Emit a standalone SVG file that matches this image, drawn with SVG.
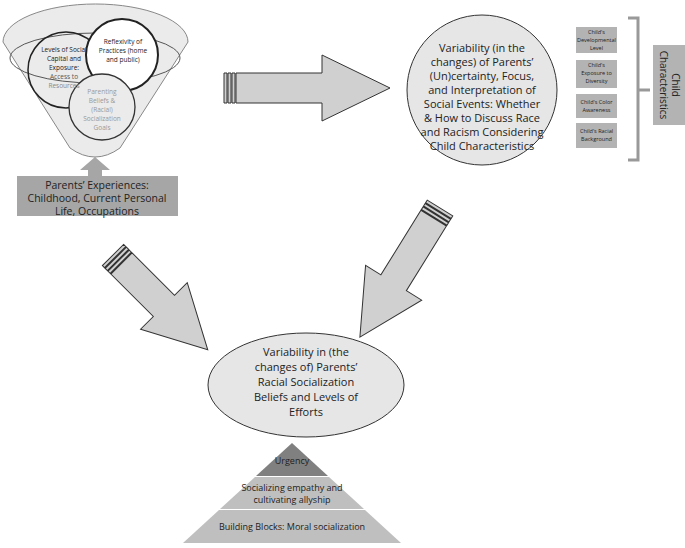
<svg xmlns="http://www.w3.org/2000/svg" width="685" height="548" viewBox="0 0 685 548">
<style>
text{font-family:"Open Sans","Liberation Sans",sans-serif;fill:#222;text-anchor:middle}
.s{font-size:6.5px}.m{font-size:11px}.e{font-size:10.5px}.t{font-size:5.5px}
.arr{fill:#d0d0d0;stroke:#333;stroke-width:1}
</style>
<rect width="685" height="548" fill="#fff"/>
<g id="connectors">
<g transform="translate(224,88)"><path class="arr" d="M0,-15h3v30h-3zM4,-15h3v30h-3zM8,-15h3v30h-3zM12,-15H98V-33L166,0L98,33V15H12z"/></g>
<g transform="translate(113,255) rotate(45)"><path class="arr" d="M0,-15h3v30h-3zM4,-15h3v30h-3zM8,-15h3v30h-3zM12,-15H72V-33L134,0L72,33V15H12z"/></g>
<g transform="translate(440,208) rotate(121.8)"><path class="arr" d="M0,-15h3v30h-3zM4,-15h3v30h-3zM8,-15h3v30h-3zM12,-15H88V-33L152,0L88,33V15H12z"/></g>
<path d="M88,177V170H80L95,157L110,170H102V177z" fill="#a6a6a6"/>
<path d="M628,18h10v142h-10M638,90h12" fill="none" stroke="#999" stroke-width="3"/>
</g>
<g id="funnel">
<path d="M3,42L70,148Q95,166 120,148L188,42A92.5,38 0 0 0 3,42Z" fill="#ebebeb" stroke="#888"/>
<ellipse cx="95" cy="58" rx="85" ry="25" fill="none" stroke="#555"/>
<circle cx="66" cy="70" r="38" fill="none" stroke="#222" stroke-width="1.5"/>
<circle cx="122" cy="55" r="36" fill="#fff" stroke="#222" stroke-width="2"/>
<circle cx="102" cy="107" r="33" fill="#ebebeb" stroke="#333" stroke-width="1.3"/>
<text class="s" x="64" y="52">Levels of Social</text>
<text class="s" x="64" y="61">Capital and</text>
<text class="s" x="64" y="70">Exposure:</text>
<text class="s" x="64" y="79" style="fill:#555">Access to</text>
<text class="s" x="64" y="88" style="fill:#888">Resources</text>
<text class="s" x="123" y="44">Reflexivity of</text>
<text class="s" x="123" y="53">Practices (home</text>
<text class="s" x="123" y="62">and public)</text>
<text class="s" x="102" y="94" style="fill:#999">Parenting</text>
<text class="s" x="102" y="103" style="fill:#999">Beliefs &amp;</text>
<text class="s" x="102" y="112" style="fill:#999">(Racial)</text>
<text class="s" x="102" y="121" style="fill:#999">Socialization</text>
<text class="s" x="102" y="130" style="fill:#999">Goals</text>
</g>
<g id="experiences">
<rect x="17" y="176" width="161" height="40" fill="#a6a6a6"/>
<text class="e" x="97" y="189">Parents’ Experiences:</text>
<text class="e" x="97" y="202">Childhood, Current Personal</text>
<text class="e" x="97" y="215">Life, Occupations</text>
</g>
<g id="variability-top">
<circle cx="482" cy="90" r="75" fill="#e6e6e6" stroke="#333"/>
<text class="m" x="482" y="52">Variability (in the</text>
<text class="m" x="482" y="66">changes) of Parents’</text>
<text class="m" x="482" y="80">(Un)certainty, Focus,</text>
<text class="m" x="482" y="94">and Interpretation of</text>
<text class="m" x="482" y="108">Social Events: Whether</text>
<text class="m" x="482" y="122">&amp; How to  Discuss Race</text>
<text class="m" x="482" y="136">and Racism Considering</text>
<text class="m" x="482" y="150">Child Characteristics</text>
</g>
<g id="child-boxes">
<rect x="576" y="27" width="41" height="26" fill="#b3b3b3"/>
<text class="t" x="596.5" y="34">Child's</text><text class="t" x="596.5" y="42">Developmental</text><text class="t" x="596.5" y="50">Level</text>
<rect x="576" y="60" width="41" height="28" fill="#b3b3b3"/>
<text class="t" x="596.5" y="67">Child's</text><text class="t" x="596.5" y="75">Exposure to</text><text class="t" x="596.5" y="83">Diversity</text>
<rect x="576" y="94" width="41" height="24" fill="#b3b3b3"/>
<text class="t" x="596.5" y="104">Child's Color</text><text class="t" x="596.5" y="112">Awareness</text>
<rect x="576" y="123" width="41" height="25" fill="#b3b3b3"/>
<text class="t" x="596.5" y="133">Child's Racial</text><text class="t" x="596.5" y="141">Background</text>
</g>
<g id="child-characteristics">
<rect x="653" y="45" width="32" height="80" fill="#b3b3b3"/>
<g transform="translate(669,85) rotate(90)"><text style="font-size:10px" x="0" y="-3">Child</text><text style="font-size:10px" x="0" y="9">Characteristics</text></g>
</g>
<g id="variability-bottom">
<ellipse cx="306" cy="385" rx="98" ry="52" fill="#e6e6e6" stroke="#333"/>
<text class="m" x="306" y="356">Variability in (the</text>
<text class="m" x="306" y="371">changes of) Parents’</text>
<text class="m" x="306" y="386">Racial Socialization</text>
<text class="m" x="306" y="401">Beliefs and Levels of</text>
<text class="m" x="306" y="416">Efforts</text>
</g>
<g id="pyramid">
<path d="M292,443L328,476H256z" fill="#808080"/>
<path d="M255,477H329L364,509H220z" fill="#bfbfbf"/>
<path d="M219,510H365L401,543H183z" fill="#bfbfbf"/>
<text style="font-size:9px" x="292" y="464">Urgency</text>
<text style="font-size:9px" x="292" y="491">Socializing empathy and</text>
<text style="font-size:9px" x="292" y="503">cultivating allyship</text>
<text style="font-size:9px" x="292" y="530">Building Blocks: Moral socialization</text>
</g>
</svg>
